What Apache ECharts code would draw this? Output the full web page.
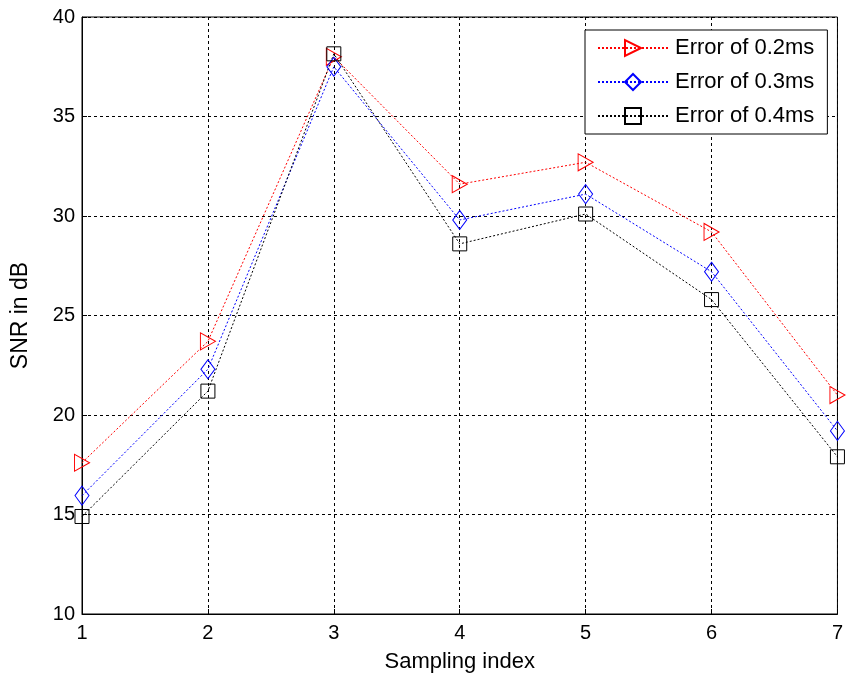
<!DOCTYPE html>
<html>
<head>
<meta charset="utf-8">
<script src="https://cdn.jsdelivr.net/npm/echarts@6/dist/echarts.min.js"></script>
<style>
  html, body { margin: 0; padding: 0; background: #fff; }
  #main { width: 846px; height: 681px; }
</style>
</head>
<body>
<div id="main"></div>
<script>
var myChart = echarts.init(document.getElementById('main'));

// data
var samplingIndex = [1, 2, 3, 4, 5, 6, 7];
var names = ['Error of 0.2ms', 'Error of 0.3ms', 'Error of 0.4ms'];
var snr02 = [17.6, 23.7, 38.0, 31.6, 32.7, 29.2, 21.0];
var snr03 = [15.95, 22.3, 37.5, 29.8, 31.1, 27.2, 19.2];
var snr04 = [14.9, 21.2, 38.15, 28.6, 30.1, 25.8, 17.9];

var font = 'Liberation Sans, Arial, sans-serif';
var colors = ['#ff0000', '#0000ff', '#000000'];

function pairs(ys) {
    return samplingIndex.map(function (x, i) { return [x, ys[i]]; });
}

function makeSeries(name, ys, color, symbol, size, rotate) {
    return {
        name: name,
        type: 'line',
        data: pairs(ys),
        symbol: symbol,
        symbolSize: size,
        symbolRotate: rotate || 0,
        showAllSymbol: true,
        lineStyle: { color: color, width: 1, type: [2, 2] },
        itemStyle: { color: 'rgba(0,0,0,0)', borderColor: color, borderWidth: 1 },
        emphasis: { disabled: true },
        animation: false
    };
}

var option = {
    backgroundColor: '#fff',
    animation: false,
    textStyle: { fontFamily: font },
    grid: {
        left: 82, right: 8, top: 17, bottom: 67,
        show: true, borderColor: '#000', borderWidth: 1
    },
    legend: {
        data: names.map(function (n, i) {
            return { name: n, itemStyle: { color: 'rgba(0,0,0,0)', borderColor: colors[i] } };
        }),
        orient: 'vertical',
        left: 585, top: 30,
        itemWidth: 70, itemHeight: 20,
        itemGap: 12,
        padding: [7, 13, 7, 12],
        borderColor: '#000', borderWidth: 1,
        backgroundColor: '#fff',
        textStyle: { fontSize: 22, color: '#000', fontFamily: font, padding: [0, 0, 0, 2] }
    },
    xAxis: {
        type: 'value',
        min: 1, max: 7, interval: 1,
        name: 'Sampling index',
        nameLocation: 'middle',
        nameGap: 37,
        nameTextStyle: { fontSize: 22, color: '#000' },
        axisLine: { lineStyle: { color: '#000' } },
        axisTick: { inside: true, length: 5, lineStyle: { color: '#000' } },
        axisLabel: { fontSize: 20, color: '#000', margin: 9 },
        splitLine: { show: true, lineStyle: { color: '#000', type: [3, 3], width: 1 } }
    },
    yAxis: {
        type: 'value',
        min: 10, max: 40, interval: 5,
        name: 'SNR in dB',
        nameLocation: 'middle',
        nameGap: 50,
        nameTextStyle: { fontSize: 23, color: '#000' },
        axisLine: { lineStyle: { color: '#000' } },
        axisTick: { inside: true, length: 5, lineStyle: { color: '#000' } },
        axisLabel: { fontSize: 20, color: '#000', margin: 7 },
        splitLine: { show: true, lineStyle: { color: '#000', type: [3, 3], width: 1 } }
    },
    series: [
        makeSeries(names[0], snr02, colors[0], 'triangle', [17, 15], -90),
        makeSeries(names[1], snr03, colors[1], 'diamond', [14, 19]),
        makeSeries(names[2], snr04, colors[2], 'rect', 14)
    ]
};

myChart.setOption(option);
</script>
</body>
</html>
